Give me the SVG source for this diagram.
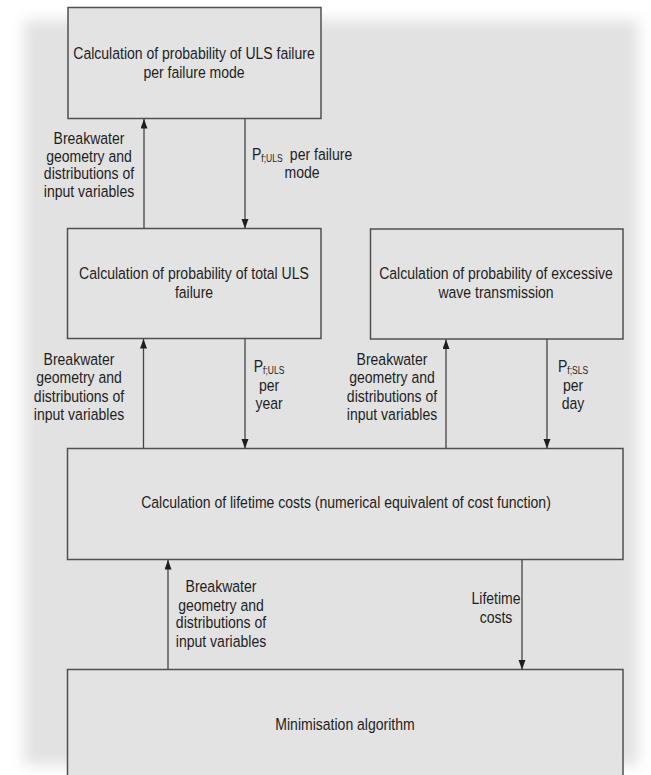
<svg xmlns="http://www.w3.org/2000/svg" width="651" height="775" viewBox="0 0 651 775">
  <style>
    .box { fill: #e3e3e3; stroke: #505050; stroke-width: 1.5; }
    .conn { fill: none; stroke: #444444; stroke-width: 1.3; }
    text { font-family: "Liberation Sans", Arial, sans-serif; font-size: 16.5px; fill: #1e1e1e; }
    .c { text-anchor: middle; }
    .sub { font-size: 10px; }
  </style>
  <defs>
    <filter id="soft" x="-5%" y="-5%" width="110%" height="110%">
      <feGaussianBlur stdDeviation="7"/>
    </filter>
    <marker id="ah" markerUnits="userSpaceOnUse" markerWidth="10" markerHeight="8" refX="9.5" refY="3.5" orient="auto">
      <path d="M0,0 L9.5,3.5 L0,7 z" fill="#1e1e1e"/>
    </marker>
  </defs>

  <rect x="0" y="0" width="651" height="775" fill="#ffffff"/>
  <rect id="panel" x="24" y="20" width="614" height="745" fill="#e2e2e2" filter="url(#soft)"/>

  <g id="node-uls-mode">
    <rect class="box" x="68" y="7.5" width="253" height="111"/>
    <text class="c" transform="translate(194,59) scale(0.85,1)">Calculation of probability of ULS failure</text>
    <text class="c" transform="translate(194,78) scale(0.85,1)">per failure mode</text>
  </g>

  <g id="node-uls-total">
    <rect class="box" x="67.5" y="228.5" width="253.5" height="110"/>
    <text class="c" transform="translate(194,279) scale(0.85,1)">Calculation of probability of total ULS</text>
    <text class="c" transform="translate(194,298) scale(0.85,1)">failure</text>
  </g>

  <g id="node-wave">
    <rect class="box" x="370.5" y="229" width="252.5" height="110"/>
    <text class="c" transform="translate(496,279) scale(0.85,1)">Calculation of probability of excessive</text>
    <text class="c" transform="translate(496,298) scale(0.85,1)">wave transmission</text>
  </g>

  <g id="node-lifetime">
    <rect class="box" x="67.5" y="448.5" width="555.5" height="111"/>
    <text class="c" transform="translate(346,508) scale(0.85,1)">Calculation of lifetime costs (numerical equivalent of cost function)</text>
  </g>

  <g id="node-minimisation">
    <path class="box" d="M67.5,790 V669.5 H623 V790"/>
    <text class="c" transform="translate(345,730) scale(0.85,1)">Minimisation algorithm</text>
  </g>

  <g id="connectors">
    <line class="conn" x1="144" y1="228.5" x2="144" y2="119" marker-end="url(#ah)"/>
    <line class="conn" x1="245" y1="118.5" x2="245" y2="228.5" marker-end="url(#ah)"/>
    <line class="conn" x1="143.5" y1="448.5" x2="143.5" y2="339" marker-end="url(#ah)"/>
    <line class="conn" x1="245" y1="338.5" x2="245" y2="448.5" marker-end="url(#ah)"/>
    <line class="conn" x1="446" y1="448.5" x2="446" y2="339.5" marker-end="url(#ah)"/>
    <line class="conn" x1="547" y1="339" x2="547" y2="448.5" marker-end="url(#ah)"/>
    <line class="conn" x1="168" y1="669.5" x2="168" y2="560" marker-end="url(#ah)"/>
    <line class="conn" x1="522" y1="559.5" x2="522" y2="669.5" marker-end="url(#ah)"/>
  </g>

  <g id="labels">
    <text class="c" transform="translate(89,144) scale(0.85,1)">Breakwater</text>
    <text class="c" transform="translate(89,162) scale(0.85,1)">geometry and</text>
    <text class="c" transform="translate(89,179) scale(0.85,1)">distributions of</text>
    <text class="c" transform="translate(89,197) scale(0.85,1)">input variables</text>

    <text transform="translate(252,160) scale(0.85,1)">P<tspan class="sub" dy="2">f;ULS</tspan><tspan dy="-2" dx="4"> per failure</tspan></text>
    <text class="c" transform="translate(302,178) scale(0.85,1)">mode</text>

    <text class="c" transform="translate(79,365) scale(0.85,1)">Breakwater</text>
    <text class="c" transform="translate(79,383) scale(0.85,1)">geometry and</text>
    <text class="c" transform="translate(79,402) scale(0.85,1)">distributions of</text>
    <text class="c" transform="translate(79,420) scale(0.85,1)">input variables</text>

    <text class="c" transform="translate(269,372) scale(0.85,1)">P<tspan class="sub" dy="2">f;ULS</tspan></text>
    <text class="c" transform="translate(269,391) scale(0.85,1)">per</text>
    <text class="c" transform="translate(269,409) scale(0.85,1)">year</text>

    <text class="c" transform="translate(392,365) scale(0.85,1)">Breakwater</text>
    <text class="c" transform="translate(392,383) scale(0.85,1)">geometry and</text>
    <text class="c" transform="translate(392,402) scale(0.85,1)">distributions of</text>
    <text class="c" transform="translate(392,420) scale(0.85,1)">input variables</text>

    <text class="c" transform="translate(573,372) scale(0.85,1)">P<tspan class="sub" dy="2">f;SLS</tspan></text>
    <text class="c" transform="translate(573,391) scale(0.85,1)">per</text>
    <text class="c" transform="translate(573,409) scale(0.85,1)">day</text>

    <text class="c" transform="translate(221,592) scale(0.85,1)">Breakwater</text>
    <text class="c" transform="translate(221,611) scale(0.85,1)">geometry and</text>
    <text class="c" transform="translate(221,628) scale(0.85,1)">distributions of</text>
    <text class="c" transform="translate(221,647) scale(0.85,1)">input variables</text>

    <text class="c" transform="translate(496,604) scale(0.85,1)">Lifetime</text>
    <text class="c" transform="translate(496,623) scale(0.85,1)">costs</text>
  </g>
</svg>
